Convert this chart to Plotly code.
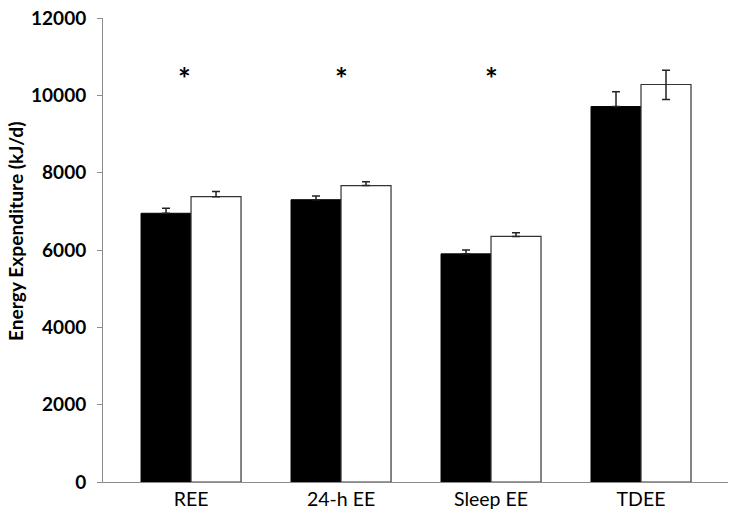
import plotly.graph_objects as go

categories = ["REE", "24-h EE", "Sleep EE", "TDEE"]
group_a = [6950, 7300, 5900, 9710]
group_a_err = [130, 95, 100, 385]
group_b = [7380, 7665, 6350, 10280]
group_b_err = [130, 100, 95, 370]
group_b_err_minus = [0, 0, 0, 385]
sig_x = [-0.045, 1, 2]
sig_marks = ["*", "*", "*"]
sig_level = 10440
y_ticks = [0, 2000, 4000, 6000, 8000, 10000, 12000]
y_tick_labels = ["0", "2000", "4000", "6000", "8000", "10000", "12000"]
y_title = "Energy Expenditure (kJ/d)"

FONT = "Lato"
xpos = list(range(len(categories)))

fig = go.Figure()
fig.add_trace(go.Bar(
    x=xpos, y=group_a,
    marker=dict(color="#000000", line=dict(color="#000000", width=1)),
    error_y=dict(type="data", array=group_a_err,
                 arrayminus=[0] * len(group_a_err), symmetric=False,
                 color="#222222", thickness=1.5, width=4),
    showlegend=False,
))
fig.add_trace(go.Bar(
    x=xpos, y=group_b,
    marker=dict(color="#ffffff", line=dict(color="#333333", width=1.2)),
    error_y=dict(type="data", array=group_b_err,
                 arrayminus=group_b_err_minus, symmetric=False,
                 color="#222222", thickness=1.5, width=4),
    showlegend=False,
))

for xc, t in zip(sig_x, sig_marks):
    fig.add_annotation(x=xc, y=sig_level, text="<b>" + t + "</b>", showarrow=False,
                       font=dict(family=FONT, size=30, color="#000000"),
                       xref="x", yref="y")

fig.add_annotation(x=-0.139, y=0.541, xref="paper", yref="paper",
                   text="<b>" + y_title + "</b>", textangle=-90, showarrow=False,
                   xanchor="center", yanchor="middle",
                   font=dict(family=FONT, size=19.2, color="#000000"))

fig.update_layout(
    width=734, height=525,
    margin=dict(l=103, r=6, t=14, b=43),
    paper_bgcolor="#ffffff", plot_bgcolor="#ffffff",
    barmode="group", bargap=0.3333, bargroupgap=0,
    font=dict(family=FONT, color="#000000"),
)
fig.update_xaxes(
    tickmode="array", tickvals=xpos, ticktext=categories,
    range=[-0.587, 3.58], showgrid=False, zeroline=False,
    showline=True, linecolor="#8c8c8c", linewidth=1,
    ticks="", tickfont=dict(family=FONT, size=19.5, color="#000000"),
)
fig.update_yaxes(
    range=[0, 12000], tickmode="array", tickvals=y_ticks, ticktext=y_tick_labels,
    showgrid=False, zeroline=False,
    showline=True, linecolor="#8c8c8c", linewidth=1,
    ticks="outside", ticklen=5, tickcolor="#8c8c8c",
    ticklabeloverflow="allow", ticklabelstandoff=7,
    tickfont=dict(family=FONT, size=19, color="#000000", weight="bold"),
)

fig.write_html("out.html", config={"displayModeBar": False},
               post_script="document.body.style.margin='0px';")
